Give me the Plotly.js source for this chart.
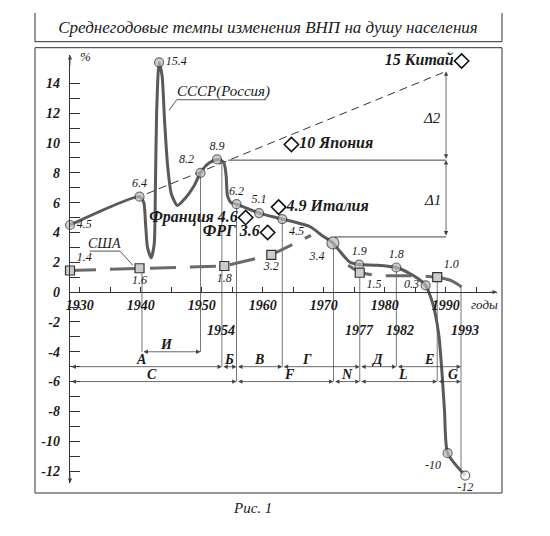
<!DOCTYPE html>
<html><head><meta charset="utf-8">
<script src="https://cdn.plot.ly/plotly-3.0.1.min.js"></script>
<style>body{margin:0;background:#fff}#chart{width:550px;height:536px}</style>
</head><body><div id="chart"></div>
<script>
// ---- data ----
const ussrYears = [1928.4,1939.8,1940.5,1940.8,1941.1,1941.7,1942.2,1942.4,1942.6,1943.0,1943.5,1943.9,1944.4,1945.0,1946.0,1947.3,1948.7,1949.8,1951.0,1952.5,1953.6,1954.0,1954.2,1954.8,1955.7,1959.4,1963.2,1967.7,1969.7,1971.5,1972.7,1974.3,1975.8,1978.7,1981.9,1984.1,1985.5,1986.7,1987.7,1988.3,1988.9,1989.4,1989.8,1990.3,1993.2];
const ussrVals  = [4.5,6.4,6.0,4.5,3.0,2.3,3.2,7.0,12.0,15.4,14.5,11.5,8.5,6.6,5.8,6.3,7.1,8.0,8.6,8.9,8.7,7.8,6.5,6.0,5.9,5.3,4.9,4.4,3.8,3.3,2.7,2.0,1.85,1.8,1.65,1.25,0.9,0.45,-0.55,-1.5,-3.0,-5.5,-8.0,-10.8,-12.3];

const ussrPtYears  = [1928.4,1939.8,1943.0,1949.8,1952.5,1955.7,1959.4,1963.2,1971.5,1975.8,1981.9,1986.7,1990.3,1993.2];
const ussrPtVals   = [4.5,6.4,15.4,8.0,8.9,5.9,5.3,4.9,3.3,1.85,1.65,0.45,-10.8,-12.3];
const ussrPtLabels = ['4.5','6.4','15.4','8.2','8.9','6.2','5.1','4.5','3.4','1.9','1.8','0.3','-10','-12'];

const usaYears = [1928.4,1939.8,1953.7,1961.4,1963.8,1967.9,1971.0,1974.0,1975.9,1978.7,1981.8,1985.7,1988.6];
const usaVals  = [1.45,1.6,1.75,2.5,3.0,3.8,null,1.8,1.3,1.1,1.1,1.1,1.0];
const usaTailYears = [1988.6,1990.7,1992.6];
const usaTailVals  = [1.0,0.8,0.35];
const usaPtYears  = [1928.4,1939.8,1953.7,1961.4,1975.9,1988.6];
const usaPtVals   = [1.45,1.6,1.75,2.5,1.3,1.0];
const usaPtLabels = ['1.4','1.6','1.8','3.2','1.5','1.0'];

const countryNames  = ['Китай','Япония','Италия','Франция','ФРГ'];
const countryValues = ['15','10','4.9','4.6','3.6'];
const countryYears  = [1992.6,1964.7,1962.6,1957.2,1960.8];
const countryVals   = [15.5,9.9,5.7,5.0,4.0];

const trendYears = [1941.0,1990.05];
const trendVals  = [6.6,14.8];

const dropYears  = [1940.2,1949.8,1953.3,1955.7,1963.2,1971.6,1975.9,1981.9,1988.6,1992.5];
const dropTop    = [1.6,8.0,8.9,5.9,4.9,3.3,1.8,1.65,1.0,0.35];
const dropBottom = [-4,-4,-5,-6,-5,-6,-6,-5,-6,-12.1];

const periodNames  = ['И','А','Б','В','Г','Д','Е','C','F','N','L','G'];
const periodFrom   = [1940.2,1928.4,1953.3,1955.7,1963.2,1975.9,1981.9,1928.4,1955.7,1971.6,1975.9,1988.6];
const periodTo     = [1949.8,1953.3,1955.7,1963.2,1975.9,1981.9,1992.5,1955.7,1971.6,1975.9,1988.6,1992.5];
const periodLevel  = [-4,-5,-5,-5,-5,-5,-5,-6,-6,-6,-6,-6];
const periodLabelX = [1944.2,1940.1,1954.5,1959.4,1967.2,1978.7,1987.3,1941.8,1964.4,1973.8,1983.0,1991.2];

const markYears  = [1953.1,1975.8,1982.5,1993.2];
const markLabels = ['1954','1977','1982','1993'];

const deltaYear = 1990.05;
const deltaLevels = [3.7,8.85,14.8];
const deltaLineFrom = [1971.8,1954.3];

const xTicks = [1930,1940,1950,1960,1970,1980,1990];
const yTicks = [-12,-10,-8,-6,-4,-2,0,2,4,6,8,10,12,14];
const yMinor = [-11,-9,-7,-5,-3,-1,1,3,5,7,9,11,13];

// ---- layout helpers ----
const W=550,H=536, L=70,R=497,T=55,B=483;
const XR=[1928.4,1998.4], YR=[-12.8,15.9];
const px=(p)=>(p-L)/(R-L), py=(p)=>(B-p)/(B-T);
const SERIF='"Liberation Serif", "Times New Roman", serif';
const INK='#1a1a1a';
const fI=(s,w)=>({family:SERIF,size:s,color:INK,style:'italic',weight:w||'normal'});

const traces = [];
traces.push({x:trendYears,y:trendVals,mode:'lines',line:{color:'#333',width:1,dash:'8px,5px'},hoverinfo:'skip',cliponaxis:false});
dropYears.forEach((yr,i)=>traces.push({x:[yr,yr],y:[dropTop[i],dropBottom[i]],mode:'lines',line:{color:'#666',width:0.9},hoverinfo:'skip',cliponaxis:false}));
traces.push({x:[deltaLineFrom[1],deltaYear],y:[deltaLevels[1],deltaLevels[1]],mode:'lines',line:{color:'#444',width:1},cliponaxis:false});
traces.push({x:[deltaLineFrom[0],deltaYear],y:[deltaLevels[0],deltaLevels[0]],mode:'lines',line:{color:'#444',width:1},cliponaxis:false});
traces.push({x:usaYears,y:usaVals,mode:'lines',connectgaps:false,line:{color:'#6a6a6a',width:3,dash:'26px,14px'},cliponaxis:false});
traces.push({x:usaTailYears,y:usaTailVals,mode:'lines',line:{color:'#6a6a6a',width:3,shape:'spline'},cliponaxis:false});
traces.push({x:ussrYears,y:ussrVals,mode:'lines',line:{color:'#5a5a5a',width:3,shape:'spline',smoothing:0.6},cliponaxis:false});
traces.push({x:ussrPtYears,y:ussrPtVals,mode:'markers+text',text:ussrPtLabels,
  textposition:['middle right','top center','middle right','top left','top center','top center','top center','bottom right','bottom left','top center','top center','middle left','bottom left','bottom center'],
  textfont:fI(12),
  marker:{symbol:'circle',size:ussrPtYears.map((_,i)=>i===8?12:9),color:ussrPtYears.map((_,i)=>i===ussrPtYears.length-1?'#fff':'#bbb'),line:{color:'#333',width:1.2}},cliponaxis:false});
traces.push({x:usaPtYears,y:usaPtVals,mode:'markers+text',text:usaPtLabels,
  textposition:['top right','bottom center','bottom center','bottom center','bottom right','top right'],
  textfont:fI(12),
  marker:{symbol:'square',size:9,color:'#ccc',line:{color:'#333',width:1.2}},cliponaxis:false});
traces.push({x:countryYears,y:countryVals,mode:'markers+text',
  text:countryNames.map((n,i)=> (i>=3 ? n+' '+countryValues[i] : countryValues[i]+' '+n)),
  textposition:['middle left','middle right','middle right','middle left','middle left'],
  textfont:fI(16,'bold'),
  marker:{symbol:'diamond-open',size:11,color:'#111',line:{width:1.6}},cliponaxis:false});

const ann = [];
const arrow=(x,y,ax,ay,side)=>({x:x,y:y,ax:ax,ay:ay,xref:'x',yref:'y',axref:'x',ayref:'y',text:'',showarrow:true,arrowhead:2,arrowsize:1.1,arrowwidth:0.8,arrowcolor:'#444',arrowside:side||'end+start',standoff:0,startstandoff:0});
periodNames.forEach((n,i)=>{
  ann.push(arrow(periodTo[i],periodLevel[i],periodFrom[i],periodLevel[i]));
  ann.push({x:periodLabelX[i],y:periodLevel[i],xref:'x',yref:'y',text:n,showarrow:false,yanchor:'bottom',yshift:-2,font:fI(14,'bold')});
});
ann.push(arrow(deltaYear,deltaLevels[2],deltaYear,deltaLevels[1]));
ann.push(arrow(deltaYear,deltaLevels[1],deltaYear,deltaLevels[0]));
ann.push({x:1987.8,y:11.7,xref:'x',yref:'y',text:'Δ2',showarrow:false,font:fI(15)});
ann.push({x:1987.8,y:6.2,xref:'x',yref:'y',text:'Δ1',showarrow:false,font:fI(15)});
ann.push(arrow(XR[1],0,XR[1]-1.5,0,'end'));
ann.push(arrow(XR[0],YR[1],XR[0],YR[1]-0.8,'end'));
ann.push(arrow(XR[0],YR[0],XR[0],YR[0]+0.8,'end'));
markYears.forEach((yr,i)=>ann.push({x:yr,y:-2.6,xref:'x',yref:'y',text:markLabels[i],showarrow:false,font:fI(14,'bold')}));
ann.push({x:1996.4,y:-0.85,xref:'x',yref:'y',text:'годы',showarrow:false,font:fI(13)});
ann.push({x:1931.0,y:15.8,xref:'x',yref:'y',text:'%',showarrow:false,font:fI(13)});
ann.push({x:1953.5,y:13.45,xref:'x',yref:'y',text:'СССР(Россия)',showarrow:false,font:fI(15)});
ann.push({x:1934.1,y:3.25,xref:'x',yref:'y',text:'США',showarrow:false,font:fI(14)});
ann.push({x:px(252),y:py(518),xref:'paper',yref:'paper',text:'Рис. 1',showarrow:false,font:fI(15)});

const shapes = [
  {type:'rect',xref:'paper',yref:'paper',x0:px(35),x1:px(502),y0:py(493),y1:py(47.7),line:{color:'#333',width:1}},
  {type:'line',xref:'paper',yref:'paper',x0:px(35),x1:px(502),y0:py(41.7),y1:py(41.7),line:{color:'#333',width:1}},
  {type:'line',xref:'paper',yref:'paper',x0:px(35),x1:px(35),y0:py(41.7),y1:py(13),line:{color:'#333',width:1}},
  {type:'line',xref:'paper',yref:'paper',x0:px(502),x1:px(502),y0:py(41.7),y1:py(13),line:{color:'#333',width:1}},
  {type:'line',xref:'x',yref:'y',x0:1944.65,y0:12.2,x1:1945.9,y1:12.9,line:{color:'#444',width:0.9}},
  {type:'line',xref:'x',yref:'y',x0:1945.9,y0:12.9,x1:1960.6,y1:12.9,line:{color:'#444',width:0.9}},
  {type:'line',xref:'x',yref:'y',x0:1931.6,y0:2.75,x1:1936.6,y1:2.75,line:{color:'#444',width:0.9}},
  {type:'line',xref:'x',yref:'y',x0:1936.6,y0:2.75,x1:1938.7,y1:1.8,line:{color:'#444',width:0.9}}
];

const layout = {
  width:W,height:H,margin:{l:L,r:W-R,t:T,b:H-B},
  paper_bgcolor:'#fff',plot_bgcolor:'#fff',showlegend:false,
  font:{family:SERIF,color:INK},
  title:{text:'Среднегодовые темпы изменения ВНП на душу населения',x:268/W,xanchor:'center',y:1-27/H,yanchor:'middle',font:fI(17)},
  xaxis:{range:XR,anchor:'free',position:(0-YR[0])/(YR[1]-YR[0]),showline:true,linecolor:'#333',linewidth:1.2,
    zeroline:false,showgrid:false,tickvals:xTicks,ticktext:xTicks.map(String),ticks:'inside',ticklen:5,tickcolor:'#333',
    minor:{tickvals:[1935,1945,1955,1965,1975,1985,1995],ticks:'inside',ticklen:5,tickcolor:'#333'},
    tickfont:fI(14,'bold'),fixedrange:true},
  yaxis:{range:YR,showline:true,linecolor:'#333',linewidth:1.2,zeroline:false,showgrid:false,
    tickvals:yTicks,ticktext:yTicks.map(String),ticks:'inside',ticklen:10,tickcolor:'#333',ticklabelstandoff:6,
    minor:{tickvals:yMinor,ticks:'inside',ticklen:10,tickcolor:'#333'},
    tickfont:fI(14,'bold'),fixedrange:true},
  annotations:ann,shapes:shapes
};
Plotly.newPlot('chart',traces,layout,{displayModeBar:false,staticPlot:true});
</script></body></html>
